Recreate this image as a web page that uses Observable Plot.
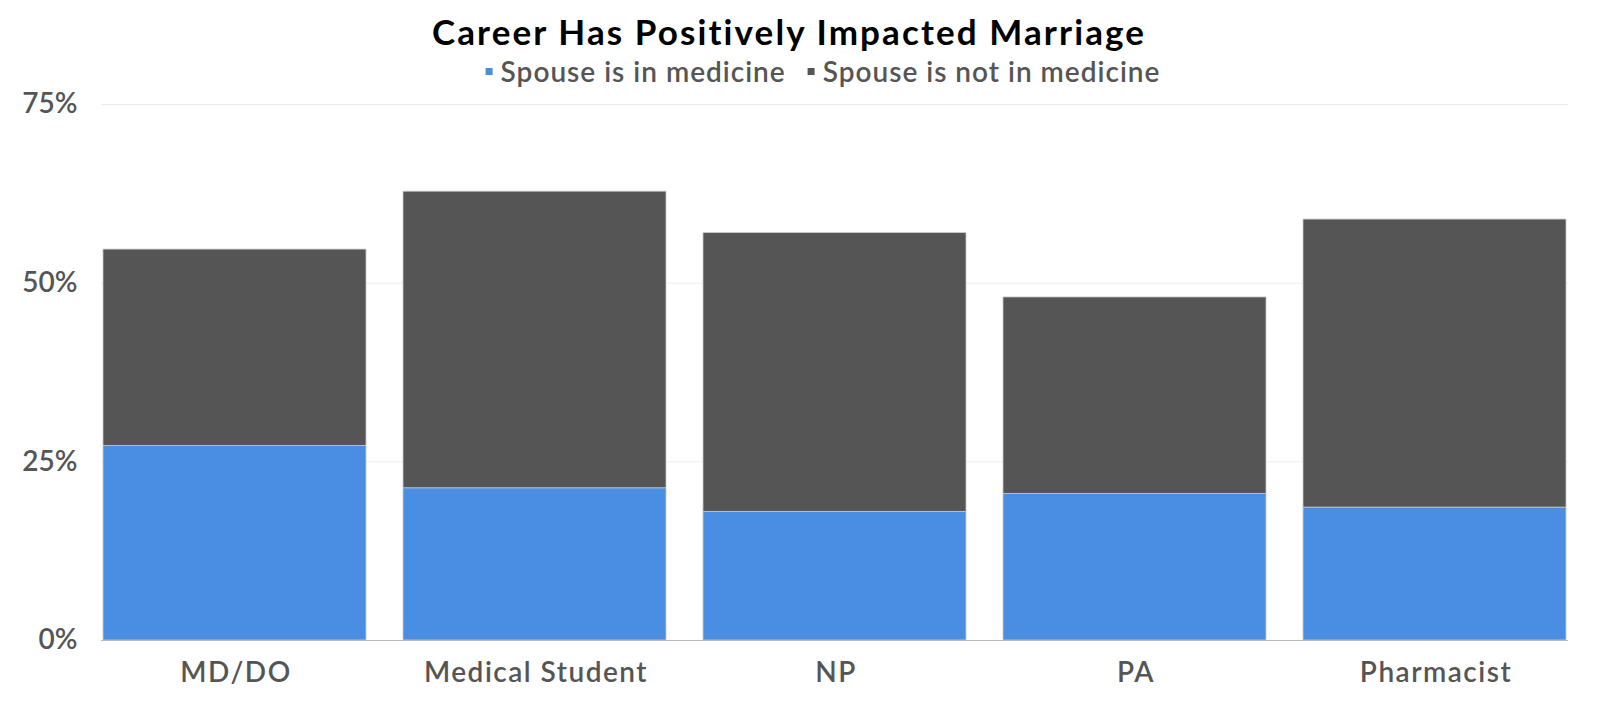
<!DOCTYPE html>
<html>
<head>
<meta charset="utf-8">
<script src="https://cdn.jsdelivr.net/npm/d3@7"></script>
<script src="https://cdn.jsdelivr.net/npm/@observablehq/plot@0.6"></script>
<style>
  html, body { margin: 0; padding: 0; background: #fff; }
  body { width: 1600px; height: 704px; overflow: hidden; font-family: Lato, "Noto Sans", sans-serif; }
  #header { position: relative; height: 70px; z-index: 2; }
  #title { position: absolute; left: 789px; top: 10px; transform: translateX(-50%); white-space: nowrap;
           font-size: 35px; font-weight: 700; color: #000; line-height: 1.2; letter-spacing: 2.1px; }
  #legend { position: absolute; left: 823px; top: 55px; transform: translateX(-50%); white-space: nowrap;
            font-size: 28px; font-weight: 600; color: #555; line-height: 1.2; display: flex; align-items: center; letter-spacing: 1px; }
  .item { display: flex; align-items: center; }
  .item + .item { margin-left: 22px; }
  .sw { width: 7px; height: 7px; margin-right: 8px; display: inline-block; }
  #chart svg { display: block; }
  #chart g[aria-label="x-axis tick label"] text { letter-spacing: 1.5px; }
</style>
</head>
<body>
<div id="header">
  <div id="title"></div>
  <div id="legend"></div>
</div>
<div id="chart"></div>
<script>
const titleText = "Career Has Positively Impacted Marriage";
const categories = ["MD/DO", "Medical Student", "NP", "PA", "Pharmacist"];
const series = ["Spouse is in medicine", "Spouse is not in medicine"];
const inMedicine = [27.2, 21.3, 18.0, 20.5, 18.6];
const notInMedicine = [27.5, 41.5, 39.0, 27.5, 40.3];
const colors = ["#4a8ee3", "#555555"];
const yTicks = [0, 25, 50, 75];

document.getElementById("title").textContent = titleText;
const legend = document.getElementById("legend");
series.forEach((s, i) => {
  const item = document.createElement("span");
  item.className = "item";
  const sw = document.createElement("span");
  sw.className = "sw";
  sw.style.background = colors[i];
  const t = document.createElement("span");
  t.textContent = s;
  item.appendChild(sw);
  item.appendChild(t);
  legend.appendChild(item);
});

const data = categories.flatMap((c, i) => [
  {cat: c, series: series[0], value: inMedicine[i]},
  {cat: c, series: series[1], value: notInMedicine[i]}
]);

const chart = Plot.plot({
  width: 1600,
  height: 634,
  marginTop: 34,
  marginBottom: 64,
  marginLeft: 101,
  marginRight: 32,
  style: {fontFamily: "Lato, 'Noto Sans', sans-serif", fontSize: "28px", fontWeight: 600, color: "#555", background: "transparent", overflow: "visible"},
  x: {domain: categories, paddingInner: 0.122, paddingOuter: 0, label: null},
  y: {domain: [0, 75], label: null},
  color: {domain: series, range: colors},
  marks: [
    Plot.gridY(yTicks, {stroke: "#ebebeb", strokeOpacity: 1, strokeWidth: 1}),
    Plot.barY(data, {x: "cat", y: "value", fill: "series", stroke: "#c8c8c8", strokeWidth: 0.8}),
    Plot.ruleY([0], {stroke: "#bbbbbb", strokeWidth: 1}),
    Plot.axisY({ticks: yTicks, tickFormat: d => d + "%", tickSize: 0, tickPadding: 24, fill: "#555", fontSize: 28}),
    Plot.axisX({tickSize: 0, tickPadding: 22, fill: "#555", fontSize: 28, dx: 1})
  ]
});
document.getElementById("chart").appendChild(chart);
</script>
</body>
</html>
